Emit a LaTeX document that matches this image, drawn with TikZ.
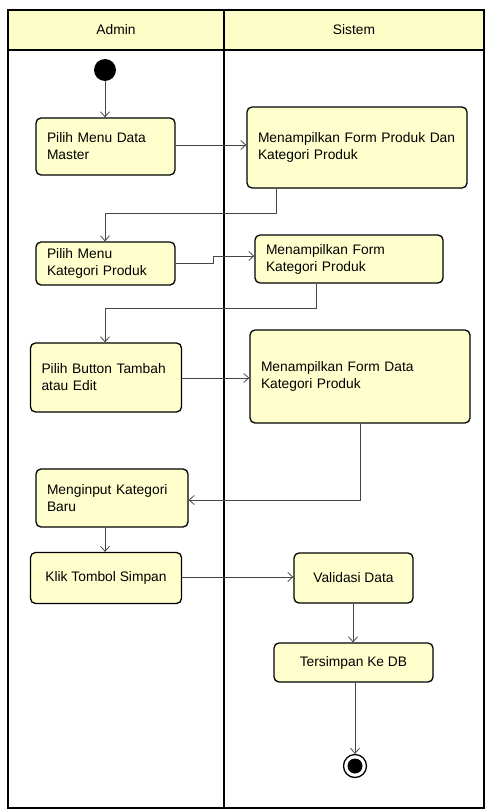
\documentclass[tikz,border=0pt]{standalone}
\usepackage{fontspec}
\setmainfont{Liberation Sans}
\usetikzlibrary{arrows.meta}
\definecolor{actfill}{RGB}{255,255,206}
\definecolor{headfill}{RGB}{253,253,200}
\definecolor{flow}{RGB}{70,70,70}
\begin{document}
\begin{tikzpicture}[x=1pt,y=-1pt,
  every node/.style={font=\fontsize{13.8}{17}\selectfont},
  actbox/.style={draw=black, line width=1.3pt, fill=actfill, rounded corners=5pt,
    inner xsep=11pt, inner ysep=3pt, align=left},
  onebox/.style={draw=black, line width=1.3pt, fill=actfill, rounded corners=5pt,
    inner sep=3pt, align=center},
  flowline/.style={draw=flow, line width=0.8pt},
  flowarrow/.style={flowline, -{Straight Barb[length=5pt,width=9pt]}},
  lane/.style={draw=black, line width=1.4pt}]
\useasboundingbox (0,0) rectangle (485,811);
\fill[white] (0,0) rectangle (485,811);

% swimlanes
\fill[headfill] (8,10) rectangle (484,50);
\draw[lane] (8,10) rectangle (484,808);
\draw[lane] (8,50) -- (484,50);
\draw[lane] (224,10) -- (224,808);
\node (hAdmin) at (116,30) {Admin};
\node (hSistem) at (354,30) {Sistem};

% start and end
\node[circle, fill=black, minimum size=22pt, inner sep=0pt] (start) at (105,70) {};
\node[circle, draw=black, line width=1.3pt, minimum size=23pt, inner sep=0pt] (stop) at (355,766) {};
\node[circle, fill=black, minimum size=15pt, inner sep=0pt] (stopdot) at (355,766) {};

% actions, Admin lane
\node[actbox, minimum width=139pt, minimum height=57pt, text width=117pt] (a1) at (105.5,146.5) {Pilih Menu Data\\Master};
\node[actbox, minimum width=139pt, minimum height=43pt, text width=117pt] (a3) at (105.5,263.5) {Pilih Menu\\Kategori Produk};
\node[actbox, minimum width=151pt, minimum height=69pt, text width=129pt] (a5) at (106,377.5) {Pilih Button Tambah\\atau Edit};
\node[actbox, minimum width=152pt, minimum height=58pt, text width=130pt] (a7) at (112,498) {Menginput Kategori\\Baru};
\node[onebox, minimum width=151pt, minimum height=51pt] (a8) at (106,578) {Klik Tombol Simpan};

% actions, Sistem lane
\node[actbox, minimum width=220pt, minimum height=81pt, text width=198pt] (s2) at (357,147.5) {Menampilkan Form Produk Dan\\Kategori Produk};
\node[actbox, minimum width=188pt, minimum height=48pt, text width=166pt] (s4) at (349,259) {Menampilkan Form\\Kategori Produk};
\node[actbox, minimum width=220pt, minimum height=93pt, text width=198pt] (s6) at (360,376.5) {Menampilkan Form Data\\Kategori Produk};
\node[onebox, minimum width=119pt, minimum height=50pt] (s9) at (353.5,578) {Validasi Data};
\node[onebox, minimum width=159pt, minimum height=39pt] (s10) at (353.5,662.5) {Tersimpan Ke DB};

% flows
\draw[flowarrow] (start) -- (a1.north -| start);
\draw[flowarrow] (a1.east |- 0,145) -- (s2.west |- 0,145);
\draw[flowarrow] (s2.south -| 276,0) -- (276,213) -- (105,213) -- (a3.north -| 105,0);
\draw[flowarrow] (a3.east |- 0,263) -- (213,263) -- (213,256) -- (s4.west |- 0,256);
\draw[flowarrow] (s4.south -| 316,0) -- (316,308) -- (105,308) -- (a5.north -| 105,0);
\draw[flowarrow] (a5.east |- 0,378) -- (s6.west |- 0,378);
\draw[flowarrow] (s6.south -| 360,0) -- (360,500) -- (a7.east |- 0,500);
\draw[flowarrow] (a7.south -| 105,0) -- (a8.north -| 105,0);
\draw[flowarrow] (a8.east |- 0,577) -- (s9.west |- 0,577);
\draw[flowarrow] (s9.south -| 353,0) -- (s10.north -| 353,0);
\draw[flowarrow] (s10.south -| 355,0) -- (stop.north);
\end{tikzpicture}
\end{document}
